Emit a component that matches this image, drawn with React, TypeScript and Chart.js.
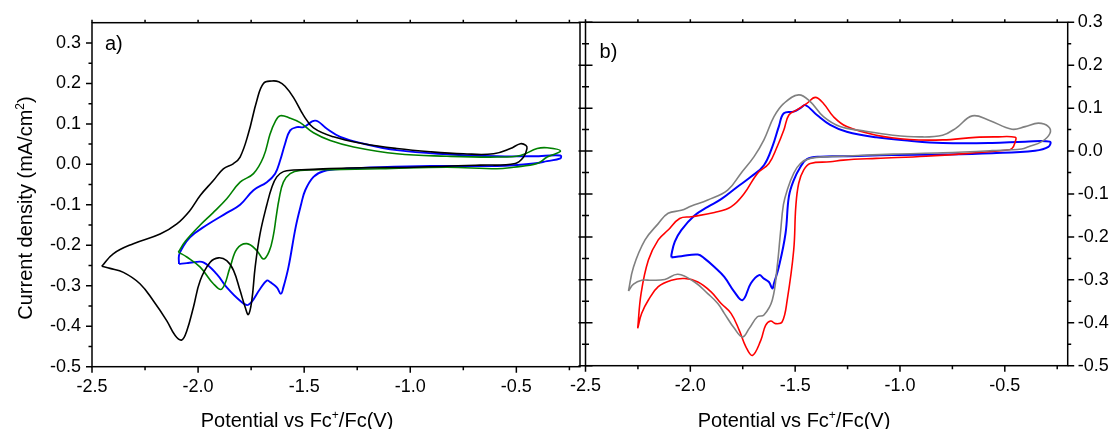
import React, { useEffect, useRef } from 'react';
import { Chart, registerables } from 'chart.js';
Chart.register(...registerables);

const FONT = '"Liberation Sans", Arial, Helvetica, sans-serif';

// ---------- Panel a) ----------
const aBlackV = [-2.454, -2.40, -2.305, -2.179, -2.10, -2.04, -1.99, -1.928, -1.881, -1.833, -1.802, -1.763, -1.723, -1.692, -1.652, -1.62, -1.59, -1.55, -1.503, -1.456, -1.362, -1.22, -1.063, -0.906, -0.749, -0.607, -0.528, -0.481, -0.455, -0.45, -0.466, -0.505, -0.67, -0.984, -1.299, -1.487, -1.55, -1.598, -1.629, -1.652, -1.676, -1.708, -1.731, -1.747, -1.763, -1.778, -1.802, -1.833, -1.865, -1.904, -1.943, -1.99, -2.022, -2.053, -2.077, -2.108, -2.148, -2.211, -2.274, -2.352, -2.415, -2.454];
const aBlackJ = [-0.252, -0.221, -0.196, -0.172, -0.147, -0.115, -0.077, -0.040, -0.011, 0.002, 0.018, 0.076, 0.158, 0.200, 0.206, 0.204, 0.193, 0.165, 0.121, 0.090, 0.068, 0.051, 0.039, 0.031, 0.026, 0.026, 0.039, 0.051, 0.047, 0.039, 0.018, 0.002, -0.002, -0.007, -0.009, -0.013, -0.014, -0.018, -0.031, -0.056, -0.100, -0.172, -0.254, -0.337, -0.371, -0.353, -0.312, -0.262, -0.238, -0.231, -0.242, -0.287, -0.353, -0.411, -0.434, -0.423, -0.386, -0.337, -0.295, -0.267, -0.257, -0.252];

const aGreenV = [-2.093, -2.06, -1.99, -1.93, -1.865, -1.802, -1.739, -1.692, -1.66, -1.637, -1.613, -1.566, -1.519, -1.456, -1.377, -1.267, -1.063, -0.827, -0.591, -0.481, -0.402, -0.355, -0.292, -0.355, -0.402, -0.513, -0.591, -0.827, -1.142, -1.377, -1.519, -1.566, -1.598, -1.618, -1.632, -1.645, -1.665, -1.692, -1.723, -1.77, -1.817, -1.849, -1.888, -1.928, -1.99, -2.053, -2.093];
const aGreenJ = [-0.217, -0.190, -0.150, -0.120, -0.085, -0.044, -0.023, 0.018, 0.076, 0.105, 0.120, 0.114, 0.103, 0.078, 0.059, 0.043, 0.026, 0.020, 0.018, 0.022, 0.039, 0.041, 0.033, 0.018, 0.002, -0.007, -0.011, -0.007, -0.011, -0.013, -0.015, -0.023, -0.044, -0.085, -0.130, -0.175, -0.215, -0.234, -0.213, -0.196, -0.209, -0.254, -0.308, -0.295, -0.254, -0.229, -0.217];

const aBlueV = [-2.09, -2.09, -2.077, -2.038, -1.959, -1.865, -1.802, -1.739, -1.676, -1.637, -1.613, -1.590, -1.566, -1.534, -1.503, -1.448, -1.393, -1.33, -1.22, -1.063, -0.827, -0.591, -0.418, -0.292, -0.292, -0.355, -0.418, -0.591, -0.906, -1.142, -1.299, -1.409, -1.456, -1.495, -1.515, -1.54, -1.574, -1.598, -1.61, -1.629, -1.66, -1.676, -1.708, -1.763, -1.802, -1.865, -1.912, -1.975, -2.022, -2.053, -2.09];
const aBlueJ = [-0.246, -0.225, -0.209, -0.180, -0.150, -0.120, -0.100, -0.064, -0.044, -0.023, 0.010, 0.051, 0.084, 0.092, 0.092, 0.108, 0.088, 0.068, 0.051, 0.035, 0.025, 0.020, 0.020, 0.022, 0.015, 0.008, 0.002, -0.004, -0.004, -0.007, -0.011, -0.017, -0.031, -0.064, -0.100, -0.155, -0.254, -0.304, -0.320, -0.304, -0.291, -0.287, -0.308, -0.347, -0.337, -0.304, -0.271, -0.242, -0.242, -0.244, -0.246];

// ---------- Panel b) ----------
const bGrayV = [-2.295, -2.271, -2.216, -2.153, -2.106, -2.043, -1.995, -1.917, -1.822, -1.759, -1.696, -1.649, -1.601, -1.554, -1.483, -1.428, -1.365, -1.286, -1.175, -1.034, -0.907, -0.797, -0.734, -0.655, -0.576, -0.466, -0.403, -0.340, -0.292, -0.285, -0.324, -0.387, -0.42, -0.561, -0.797, -1.034, -1.27, -1.333, -1.428, -1.475, -1.507, -1.538, -1.556, -1.570, -1.586, -1.609, -1.649, -1.680, -1.719, -1.751, -1.790, -1.838, -1.869, -1.917, -1.980, -2.059, -2.122, -2.185, -2.232, -2.271, -2.295];
const bGrayJ = [-0.326, -0.270, -0.207, -0.169, -0.145, -0.138, -0.128, -0.114, -0.091, -0.052, -0.013, 0.026, 0.080, 0.111, 0.131, 0.115, 0.080, 0.057, 0.047, 0.037, 0.033, 0.037, 0.053, 0.082, 0.072, 0.051, 0.057, 0.065, 0.057, 0.041, 0.022, 0.010, 0.005, 0.001, -0.004, -0.007, -0.012, -0.013, -0.017, -0.029, -0.052, -0.091, -0.125, -0.190, -0.270, -0.347, -0.382, -0.386, -0.413, -0.433, -0.413, -0.378, -0.355, -0.332, -0.305, -0.287, -0.299, -0.301, -0.301, -0.310, -0.326];

const bRedV = [-2.251, -2.235, -2.2, -2.153, -2.106, -2.051, -1.995, -1.885, -1.806, -1.743, -1.680, -1.625, -1.586, -1.554, -1.530, -1.491, -1.444, -1.404, -1.365, -1.317, -1.254, -1.113, -0.955, -0.797, -0.640, -0.545, -0.450, -0.450, -0.466, -0.498, -0.640, -0.876, -1.113, -1.270, -1.333, -1.428, -1.459, -1.483, -1.497, -1.507, -1.538, -1.562, -1.593, -1.617, -1.641, -1.664, -1.704, -1.735, -1.767, -1.806, -1.853, -1.901, -1.964, -2.027, -2.090, -2.153, -2.2, -2.232, -2.251];
const bRedJ = [-0.413, -0.332, -0.254, -0.207, -0.184, -0.157, -0.153, -0.143, -0.130, -0.099, -0.052, -0.029, 0.010, 0.049, 0.084, 0.096, 0.111, 0.125, 0.111, 0.080, 0.057, 0.037, 0.027, 0.026, 0.032, 0.033, 0.032, 0.022, 0.006, 0.002, -0.004, -0.012, -0.017, -0.021, -0.025, -0.029, -0.044, -0.075, -0.130, -0.231, -0.347, -0.398, -0.402, -0.396, -0.406, -0.441, -0.476, -0.456, -0.417, -0.378, -0.355, -0.328, -0.305, -0.297, -0.301, -0.316, -0.347, -0.378, -0.413];

const bBlueV = [-2.090, -2.090, -2.074, -2.043, -1.980, -1.917, -1.853, -1.775, -1.711, -1.649, -1.609, -1.578, -1.554, -1.507, -1.475, -1.451, -1.396, -1.333, -1.254, -1.113, -0.955, -0.797, -0.561, -0.403, -0.285, -0.292, -0.356, -0.561, -0.797, -1.034, -1.270, -1.380, -1.444, -1.475, -1.507, -1.530, -1.546, -1.578, -1.601, -1.609, -1.625, -1.649, -1.672, -1.711, -1.751, -1.790, -1.838, -1.885, -1.933, -1.964, -2.043, -2.090];
const bBlueJ = [-0.248, -0.241, -0.211, -0.184, -0.150, -0.130, -0.112, -0.083, -0.060, -0.033, 0.010, 0.057, 0.088, 0.092, 0.100, 0.107, 0.084, 0.061, 0.045, 0.032, 0.024, 0.019, 0.019, 0.022, 0.022, 0.010, 0.001, -0.005, -0.008, -0.009, -0.012, -0.013, -0.019, -0.037, -0.068, -0.106, -0.192, -0.270, -0.308, -0.320, -0.305, -0.297, -0.289, -0.308, -0.347, -0.328, -0.293, -0.270, -0.250, -0.241, -0.245, -0.248];

// ---------- Axes ----------
const X_MIN = -2.5;
const X_MAX = -0.2;
const X_TICKS = [-2.5, -2.0, -1.5, -1.0, -0.5];
const X_MINOR = [-2.25, -1.75, -1.25, -0.75, -0.25];
const YA_MIN = -0.5;
const YA_MAX = 0.35;
const YB_MIN = -0.5;
const YB_MAX = 0.3;
const Y_TICKS = [-0.5, -0.4, -0.3, -0.2, -0.1, 0, 0.1, 0.2, 0.3];
const YA_MINOR = [-0.45, -0.35, -0.25, -0.15, -0.05, 0.05, 0.15, 0.25];
const YB_MINOR = [-0.45, -0.35, -0.25, -0.15, -0.05, 0.05, 0.15, 0.25];

const pts = (xs: number[], ys: number[]) => xs.map((x, i) => ({ x, y: ys[i] }));

const ds = (xs: number[], ys: number[], color: string, w: number) => ({
  data: pts(xs, ys),
  showLine: true,
  borderColor: color,
  backgroundColor: color,
  borderWidth: w,
  pointRadius: 0,
  tension: 0.4,
  fill: false,
});

function drawRich(ctx: CanvasRenderingContext2D, parts: { t: string; sup?: boolean }[], cx: number, baseY: number, size: number) {
  const supSize = Math.round(size * 0.6);
  let total = 0;
  const widths = parts.map((p) => {
    ctx.font = `${p.sup ? supSize : size}px ${FONT}`;
    const w = ctx.measureText(p.t).width;
    total += w;
    return w;
  });
  let x = cx - total / 2;
  ctx.textAlign = 'left';
  ctx.textBaseline = 'alphabetic';
  parts.forEach((p, i) => {
    ctx.font = `${p.sup ? supSize : size}px ${FONT}`;
    ctx.fillText(p.t, x, p.sup ? baseY - size * 0.38 : baseY);
    x += widths[i];
  });
}

const xTitleParts = [{ t: 'Potential vs Fc' }, { t: '+', sup: true }, { t: '/Fc(V)' }];
const yTitleParts = [{ t: 'Current density (mA/cm' }, { t: '2', sup: true }, { t: ')' }];

function framePlugin(panel: 'a' | 'b') {
  return {
    id: 'frame' + panel,
    afterDatasetsDraw(chart: any) {
      const { ctx, chartArea } = chart;
      const { left, right, top, bottom } = chartArea;
      const sx = chart.scales.x;
      const sy = chart.scales.y;
      ctx.save();
      ctx.strokeStyle = '#000';
      ctx.lineWidth = 1.5;
      ctx.strokeRect(left, top, right - left, bottom - top);
      ctx.beginPath();
      const line = (x1: number, y1: number, x2: number, y2: number) => {
        ctx.moveTo(x1, y1);
        ctx.lineTo(x2, y2);
      };
      X_TICKS.forEach((v) => {
        const x = sx.getPixelForValue(v);
        line(x, bottom, x, bottom + 6);
        line(x, top, x, top - 3);
      });
      X_MINOR.forEach((v) => {
        const x = sx.getPixelForValue(v);
        line(x, bottom, x, bottom + 3.5);
        line(x, top, x, top - 3);
      });
      if (panel === 'a') {
        Y_TICKS.forEach((v) => {
          const y = sy.getPixelForValue(v);
          line(left - 6, y, left, y);
        });
        YA_MINOR.forEach((v) => {
          const y = sy.getPixelForValue(v);
          line(left - 3.5, y, left, y);
        });
      } else {
        Y_TICKS.forEach((v) => {
          const y = sy.getPixelForValue(v);
          line(right, y, right + 6.5, y);
          line(left - 7, y, left + 7, y);
        });
        YB_MINOR.forEach((v) => {
          const y = sy.getPixelForValue(v);
          line(right, y, right + 3.5, y);
          line(left - 3.5, y, left + 3.5, y);
        });
      }
      ctx.stroke();
      ctx.fillStyle = '#000';
      if (panel === 'a') {
        ctx.font = `20px ${FONT}`;
        ctx.textAlign = 'left';
        ctx.textBaseline = 'alphabetic';
        ctx.fillText('a)', left + 13, 50);
        drawRich(ctx, xTitleParts, 297, 426.5, 20);
        ctx.save();
        ctx.translate(31.5, 208);
        ctx.rotate(-Math.PI / 2);
        drawRich(ctx, yTitleParts, 0, 0, 20);
        ctx.restore();
      } else {
        ctx.font = `20px ${FONT}`;
        ctx.textAlign = 'left';
        ctx.textBaseline = 'alphabetic';
        ctx.fillText('b)', left + 14, 57.5);
        drawRich(ctx, xTitleParts, 234, 426.5, 20);
      }
      ctx.restore();
    },
  };
}

const tickFont = { family: FONT, size: 18 };

function makeOptions(panel: 'a' | 'b') {
  const isA = panel === 'a';
  return {
    responsive: false,
    animation: false as const,
    devicePixelRatio: 1,
    layout: { padding: isA ? { left: 0, top: 22.7, right: 20, bottom: 0 } : { left: 20, top: 22.3, right: 0, bottom: 0 } },
    plugins: { legend: { display: false }, tooltip: { enabled: false } },
    scales: {
      x: {
        type: 'linear' as const,
        position: 'bottom' as const,
        min: X_MIN,
        max: X_MAX,
        afterBuildTicks: (s: any) => {
          s.ticks = X_TICKS.map((v) => ({ value: v }));
        },
        afterFit: (s: any) => {
          s.height = isA ? 62.3 : 63.3;
        },
        ticks: {
          callback: (v: any) => Number(v).toFixed(1),
          font: tickFont,
          color: '#000',
          padding: 10,
          maxRotation: 0,
          autoSkip: false,
        },
        grid: { display: false, drawTicks: false, tickLength: 0 },
        border: { display: false },
      },
      y: {
        type: 'linear' as const,
        position: (isA ? 'left' : 'right') as any,
        min: isA ? YA_MIN : YB_MIN,
        max: isA ? YA_MAX : YB_MAX,
        afterBuildTicks: (s: any) => {
          s.ticks = Y_TICKS.map((v) => ({ value: v }));
        },
        afterFit: (s: any) => {
          s.width = isA ? 92 : 44.3;
        },
        ticks: {
          callback: (v: any) => Number(v).toFixed(1),
          font: tickFont,
          color: '#000',
          padding: isA ? 11 : 10,
          autoSkip: false,
        },
        grid: { display: false, drawTicks: false, tickLength: 0 },
        border: { display: false },
      },
    },
  };
}

export default function App() {
  const refA = useRef<HTMLCanvasElement | null>(null);
  const refB = useRef<HTMLCanvasElement | null>(null);

  useEffect(() => {
    const chartA = new Chart(refA.current as HTMLCanvasElement, {
      type: 'scatter',
      data: {
        datasets: [
          ds(aBlackV, aBlackJ, '#000000', 1.6),
          ds(aGreenV, aGreenJ, '#008000', 1.6),
          ds(aBlueV, aBlueJ, '#0000ff', 1.9),
        ],
      },
      options: makeOptions('a') as any,
      plugins: [framePlugin('a')],
    });
    const chartB = new Chart(refB.current as HTMLCanvasElement, {
      type: 'scatter',
      data: {
        datasets: [
          ds(bGrayV, bGrayJ, '#808080', 1.6),
          ds(bRedV, bRedJ, '#ff0000', 1.6),
          ds(bBlueV, bBlueJ, '#0000ff', 2.0),
        ],
      },
      options: makeOptions('b') as any,
      plugins: [framePlugin('b')],
    });
    return () => {
      chartA.destroy();
      chartB.destroy();
    };
  }, []);

  return (
    <div style={{ position: 'fixed', left: 0, top: 0, width: 1112, height: 429, background: '#fff', overflow: 'hidden' }}>
      <canvas ref={refA} width={600} height={429} style={{ position: 'absolute', left: 0, top: 0, width: 600, height: 429 }} />
      <canvas ref={refB} width={552} height={429} style={{ position: 'absolute', left: 560, top: 0, width: 552, height: 429 }} />
    </div>
  );
}
